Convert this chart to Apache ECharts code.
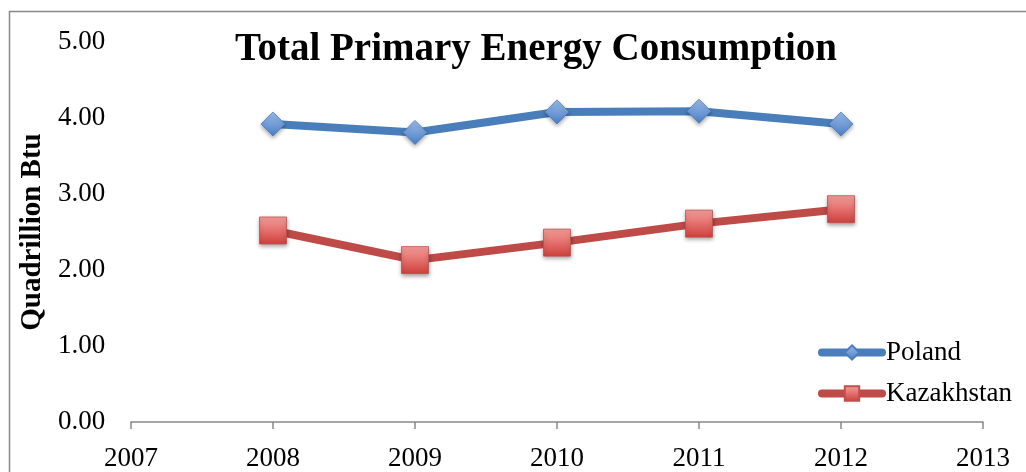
<!DOCTYPE html>
<html>
<head>
<meta charset="utf-8">
<script src="https://cdn.jsdelivr.net/npm/echarts@6/dist/echarts.min.js"></script>
<style>
  html, body { margin: 0; padding: 0; background: #fff; }
  #chart { width: 1026px; height: 472px; }
</style>
</head>
<body>
<div id="chart"></div>
<script>
// Annual totals, quadrillion Btu
const years = [2008, 2009, 2010, 2011, 2012];
const poland = [3.92, 3.81, 4.08, 4.09, 3.92];
const kazakhstan = [2.52, 2.13, 2.36, 2.61, 2.80];
const seriesNames = ['Poland', 'Kazakhstan'];

const serif = '"Liberation Serif", "DejaVu Serif", serif';

const chart = echarts.init(document.getElementById('chart'));

function pairs(vals) {
  return years.map((y, i) => [y, vals[i]]);
}

const blueFill = new echarts.graphic.LinearGradient(0, 0, 0, 1, [
  { offset: 0, color: '#9dbdea' },
  { offset: 1, color: '#4a7fc6' }
]);
const redFill = new echarts.graphic.LinearGradient(0, 0, 0, 1, [
  { offset: 0, color: '#f7a09d' },
  { offset: 1, color: '#cf3f3c' }
]);

chart.setOption({
  animation: false,
  title: {
    text: 'Total Primary Energy Consumption',
    left: 531,
    top: 25,
    textAlign: 'center',
    textStyle: { fontFamily: serif, fontWeight: 'bold', fontSize: 39, color: '#000' }
  },
  graphic: [{
    type: 'rect',
    shape: { x: 9.5, y: 11.5, width: 1030, height: 480 },
    style: { fill: 'none', stroke: '#888888', lineWidth: 1.5 },
    silent: true
  }],
  legend: {
    orient: 'vertical',
    left: 813,
    top: 334,
    itemWidth: 60,
    itemHeight: 18,
    itemGap: 14,
    textStyle: { fontFamily: serif, fontSize: 27, color: '#000', padding: [0, 0, 0, -1] },
    data: [
      { name: seriesNames[0], lineStyle: { width: 8, cap: 'round' } },
      { name: seriesNames[1], lineStyle: { width: 8, cap: 'round' } }
    ]
  },
  grid: { left: 131, right: 43, top: 42, bottom: 49 },
  xAxis: {
    type: 'value',
    min: 2007,
    max: 2013,
    interval: 1,
    splitLine: { show: false },
    axisLine: { lineStyle: { color: '#888888', width: 1.5 } },
    axisTick: { show: true, length: 7, lineStyle: { color: '#888888', width: 1.5 } },
    axisLabel: { fontFamily: serif, fontSize: 27, color: '#000', margin: 23, formatter: v => String(v) }
  },
  yAxis: {
    type: 'value',
    min: 0,
    max: 5,
    interval: 1,
    name: 'Quadrillion Btu',
    nameLocation: 'middle',
    nameGap: 76,
    nameRotate: 90,
    nameTextStyle: { fontFamily: serif, fontWeight: 'bold', fontSize: 29, color: '#000' },
    splitLine: { show: false },
    axisLine: { show: false },
    axisTick: { show: false },
    axisLabel: { fontFamily: serif, fontSize: 27, color: '#000', margin: 73, align: 'left', formatter: v => v.toFixed(2) }
  },
  series: [
    {
      name: seriesNames[0],
      type: 'line',
      data: pairs(poland),
      symbol: 'diamond',
      symbolSize: 24,
      lineStyle: { color: '#4a7ebb', width: 8, cap: 'round' },
      itemStyle: {
        color: blueFill, borderColor: '#4a7ebb', borderWidth: 0.8,
        shadowBlur: 4, shadowColor: 'rgba(0,0,0,0.35)', shadowOffsetY: 2
      }
    },
    {
      name: seriesNames[1],
      type: 'line',
      data: pairs(kazakhstan),
      symbol: 'rect',
      symbolSize: 27,
      lineStyle: { color: '#be4b48', width: 8, cap: 'round' },
      itemStyle: {
        color: redFill, borderColor: '#c0504d', borderWidth: 0.8,
        shadowBlur: 4, shadowColor: 'rgba(0,0,0,0.35)', shadowOffsetY: 2
      }
    }
  ]
});
</script>
</body>
</html>
